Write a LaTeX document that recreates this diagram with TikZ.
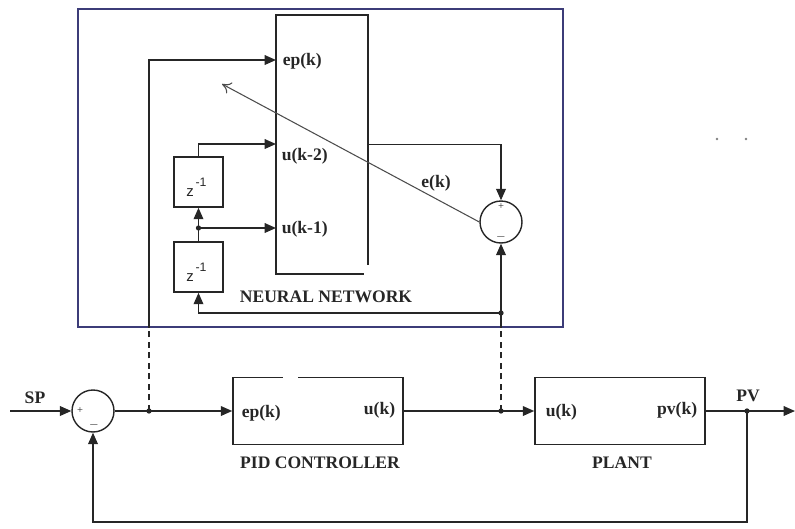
\documentclass[tikz,border=0pt]{standalone}
\usepackage{fontspec}
\setmainfont{Liberation Serif}
\newfontfamily\zfont{Liberation Sans}
\usetikzlibrary{arrows.meta}
\definecolor{frame}{RGB}{60,60,120}
\begin{document}
\begin{tikzpicture}[x=0.02cm,y=-0.02cm,>={Triangle[length=6.5pt,width=5.5pt]},
  color=black!85,line width=0.9pt,
  blk/.style={draw,inner sep=0},
  sumc/.style={circle,draw,line width=0.8pt,minimum size=0.84cm,inner sep=0},
  lbl/.style={font=\fontsize{10}{12}\selectfont\bfseries,inner sep=0},
  sgn/.style={font=\fontsize{6}{7}\selectfont,inner sep=0},
  zlbl/.style={font=\zfont\fontsize{8.5}{9}\selectfont,inner sep=0},
  jdot/.style={circle,fill,inner sep=0,minimum size=3pt}]
  \useasboundingbox (0,0) rectangle (795,528);
  % frame round the neural network
  \node[draw=frame,line width=1pt,minimum width=9.7cm,minimum height=6.36cm,inner sep=0] (nnbox) at (320.5,168) {};
  \node[blk,minimum width=1.84cm,minimum height=5.18cm] (nn) at (322,144.5) {};
  \fill[white] (364,265) rectangle (371,276);
  \node[blk,minimum width=0.98cm,minimum height=1cm] (z1) at (198.5,182) {};
  \node[blk,minimum width=0.98cm,minimum height=1cm] (z2) at (198.5,267) {};
  \node[sumc] (esum) at (501,222) {};
  % main loop
  \node[sumc] (sum) at (93,411) {};
  \node[blk,minimum width=3.4cm,minimum height=1.34cm] (pid) at (318,411) {};
  \draw[white,line width=2pt] (283,377.5)--(298,377.5);
  \node[blk,minimum width=3.4cm,minimum height=1.34cm] (plant) at (620,411) {};
  \coordinate (sp) at (10,411);
  \coordinate (j1) at (149,411);
  \coordinate (j2) at (501,411);
  \coordinate (j3) at (747,411);
  \coordinate (pv) at (795,411);
  \coordinate (fb) at (747,522);
  \coordinate (j4) at (501,313);
  \coordinate (j5) at (198.5,228);
  \coordinate (nep) at (276,60);
  \coordinate (nu2) at (276,144);
  \coordinate (nu1) at (276,228);
  \coordinate (ek) at (222,84);
  \draw[->] (sp)--(sum.west);
  \draw[->] (sum.east)--(pid.west);
  \draw[->] (pid.east)--(plant.west);
  \draw[->] (plant.east)--(pv);
  \draw[->] (j3)--(fb)-|(sum.south);
  \draw[dashed,dash pattern=on 3.5pt off 2.5pt] (j1)--(j1|-nnbox.south);
  \draw[->] (j1|-nnbox.south)|-(nep);
  \draw[dashed,dash pattern=on 3.5pt off 2.5pt] (j2)--(j2|-nnbox.south);
  \draw (j2|-nnbox.south)--(j4);
  \draw[->] (j4)--(esum.south);
  \draw[->] (j4)-|(z2.south);
  \draw[->] (z2.north)--(z1.south);
  \draw[->] (j5)--(nu1);
  \draw[->] (z1.north)|-(nu2);
  \draw[->] (nn.east)-|(esum.north);
  \draw[-{To[length=5pt,width=7pt]},line width=0.6pt,black!70] (esum.west)--(ek);
  \foreach \j in {j1,j2,j3,j4,j5} \node[jdot] (d\j) at (\j) {};
  % labels
  \node[lbl,anchor=west] (lep) at (282,61) {ep(k)};
  \node[lbl,anchor=west] (lu2) at (281,156) {u(k-2)};
  \node[lbl,anchor=west] (lu1) at (281,229) {u(k-1)};
  \node[lbl] (lek) at (436,183) {e(k)};
  \node[lbl] (lnn) at (326,297) {NEURAL NETWORK};
  \node[zlbl] (lz1) at (190,193) {z};
  \node[zlbl,font=\zfont\fontsize{7}{8}\selectfont] (lz1e) at (201,182) {-1};
  \node[zlbl] (lz2) at (190,278) {z};
  \node[zlbl,font=\zfont\fontsize{7}{8}\selectfont] (lz2e) at (201,267) {-1};
  \node[sgn] (sp1) at (501,207) {+};
  \node[sgn] (sm1) at (501,237) {$-$};
  \node[sgn] (sp2) at (80,411) {+};
  \node[sgn] (sm2) at (94,425) {$-$};
  \node[lbl] (lsp) at (35,398) {SP};
  \node[lbl] (lpv) at (748,396) {PV};
  \node[lbl,anchor=west] (lpe) at (241,413) {ep(k)};
  \node[lbl,anchor=east] (lpu) at (396,410) {u(k)};
  \node[lbl,anchor=west] (lqu) at (545,412) {u(k)};
  \node[lbl,anchor=east] (lqv) at (698,410) {pv(k)};
  \node[lbl] (lpid) at (320,463) {PID CONTROLLER};
  \node[lbl] (lplant) at (622,463) {PLANT};
  \fill[black!50] (717,139) circle(0.8pt) (746,139) circle(0.8pt);
\end{tikzpicture}
\end{document}
